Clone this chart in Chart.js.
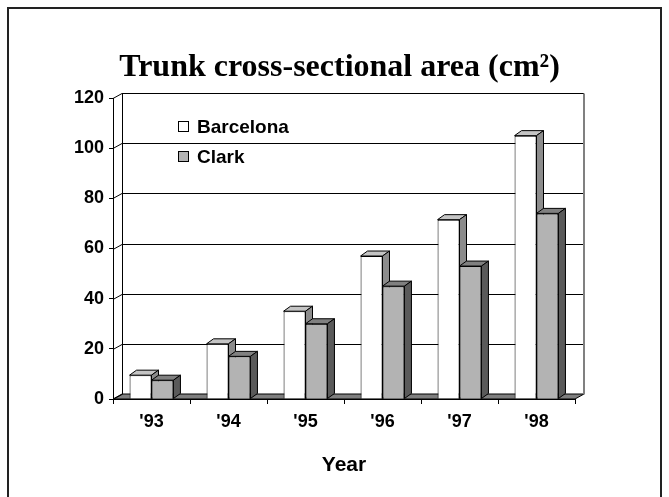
<!DOCTYPE html>
<html><head><meta charset="utf-8">
<script src="https://cdn.jsdelivr.net/npm/chart.js@4/dist/chart.umd.min.js"></script>
<style>
html,body{margin:0;padding:0;background:#fff;}
#wrap{position:relative;width:669px;height:497px;}
</style></head><body>
<div id="wrap"><canvas id="c" width="669" height="497"></canvas></div>
<script>
const categories = ["'93", "'94", "'95", "'96", "'97", "'98"];
const barcelona = [9.5, 22, 35, 57, 71.5, 105];
const clark = [7.5, 17, 30, 45, 53, 74];
const yTicks = [0, 20, 40, 60, 80, 100, 120];
const seriesNames = ['Barcelona', 'Clark'];
const titleText = 'Trunk cross-sectional area (cm\u00B2)';
const xTitle = 'Year';

const SANS = "'Liberation Sans', Arial, sans-serif";
const SERIF = "'Liberation Serif', 'Times New Roman', serif";
const FRONT = ['#ffffff', '#b3b3b3'];
const TOP = ['#c4c4c4', '#808080'];
const SIDE = ['#8c8c8c', '#5a5a5a'];
const BAR = {dx: 7, dy: -5};
const WALL = {dx: 9, dy: -5};

function poly(ctx, pts, fill, stroke) {
  ctx.beginPath();
  ctx.moveTo(pts[0][0], pts[0][1]);
  for (let i = 1; i < pts.length; i++) ctx.lineTo(pts[i][0], pts[i][1]);
  ctx.closePath();
  if (fill) { ctx.fillStyle = fill; ctx.fill(); }
  if (stroke) { ctx.strokeStyle = stroke; ctx.lineWidth = 1; ctx.stroke(); }
}

const threeD = {
  id: 'threeD',
  beforeDraw(chart) {
    const ctx = chart.ctx;
    ctx.save();
    ctx.strokeStyle = '#222';
    ctx.lineWidth = 2;
    ctx.strokeRect(8, 8, 653, 520);
    ctx.restore();
  },
  beforeDatasetsDraw(chart) {
    const {ctx, chartArea: a, scales: {y}} = chart;
    ctx.save();
    poly(ctx, [[a.left, a.bottom], [a.right, a.bottom], [a.right + WALL.dx, a.bottom + WALL.dy], [a.left + WALL.dx, a.bottom + WALL.dy]], '#7f7f7f', '#000');
    ctx.strokeStyle = '#000';
    ctx.lineWidth = 1;
    yTicks.forEach(v => {
      const py = Math.round(y.getPixelForValue(v)) + 0.5;
      ctx.beginPath();
      ctx.moveTo(a.left, py);
      ctx.lineTo(a.left + WALL.dx, py + WALL.dy);
      if (v !== 0) ctx.lineTo(a.right + WALL.dx, py + WALL.dy);
      ctx.stroke();
    });
    const top = Math.round(y.getPixelForValue(yTicks[yTicks.length - 1])) + WALL.dy + 0.5;
    const bot = Math.round(y.getPixelForValue(0)) + WALL.dy + 0.5;
    ctx.beginPath();
    ctx.moveTo(a.left + WALL.dx + 0.5, top);
    ctx.lineTo(a.left + WALL.dx + 0.5, bot);
    ctx.stroke();
    ctx.strokeStyle = '#808080';
    ctx.lineWidth = 2;
    ctx.beginPath();
    ctx.moveTo(a.right + WALL.dx, top);
    ctx.lineTo(a.right + WALL.dx, bot);
    ctx.stroke();
    ctx.restore();
  },
  afterDatasetsDraw(chart) {
    const ctx = chart.ctx;
    ctx.save();
    const n = chart.data.labels.length;
    for (let i = 0; i < n; i++) {
      chart.data.datasets.forEach((ds, d) => {
        const el = chart.getDatasetMeta(d).data[i];
        if (d > 0) el.draw(ctx);
        const p = el.getProps(['x', 'y', 'base', 'width'], true);
        const l = p.x - p.width / 2, r = p.x + p.width / 2, t = p.y, b = p.base;
        poly(ctx, [[l, t], [l + BAR.dx, t + BAR.dy], [r + BAR.dx, t + BAR.dy], [r, t]], TOP[d], '#000');
        poly(ctx, [[r, t], [r + BAR.dx, t + BAR.dy], [r + BAR.dx, b + BAR.dy], [r, b]], SIDE[d], '#000');
      });
    }
    ctx.restore();
  },
  afterDraw(chart) {
    const ctx = chart.ctx;
    ctx.save();
    ctx.font = 'bold 19px ' + SANS;
    ctx.textBaseline = 'middle';
    seriesNames.forEach((name, d) => {
      const by = 121 + d * 30;
      ctx.fillStyle = FRONT[d];
      ctx.fillRect(178.5, by + 0.5, 10, 10);
      ctx.strokeStyle = '#000';
      ctx.lineWidth = 1;
      ctx.strokeRect(178.5, by + 0.5, 10, 10);
      ctx.fillStyle = '#000';
      ctx.fillText(name, 197, by + 6.5);
    });
    ctx.restore();
  }
};

new Chart(document.getElementById('c'), {
  type: 'bar',
  data: {
    labels: categories,
    datasets: [
      {label: seriesNames[0], data: barcelona, backgroundColor: FRONT[0], borderColor: '#000', borderWidth: 1, barPercentage: 1, categoryPercentage: 0.57},
      {label: seriesNames[1], data: clark, backgroundColor: FRONT[1], borderColor: '#000', borderWidth: 1, barPercentage: 1, categoryPercentage: 0.57}
    ]
  },
  options: {
    responsive: false,
    animation: false,
    devicePixelRatio: 1,
    layout: {padding: {left: 10, right: 0, top: 0, bottom: 10}},
    plugins: {
      legend: {display: false},
      tooltip: {enabled: false},
      title: {
        display: true,
        text: titleText,
        color: '#000',
        font: {family: SERIF, size: 32, weight: 'bold', lineHeight: 1.2},
        padding: {top: 49, bottom: 10.6}
      }
    },
    scales: {
      x: {
        afterFit: s => { s.height = 88; },
        grid: {offset: true, drawOnChartArea: false, drawTicks: true, tickLength: 5, color: '#000'},
        border: {display: true, color: '#000', width: 1},
        ticks: {color: '#000', font: {family: SANS, size: 18, weight: 'bold'}, padding: 7},
        title: {display: true, text: xTitle, color: '#000', font: {family: SANS, size: 21, weight: 'bold'}, padding: {top: 0, bottom: 9.4}}
      },
      y: {
        min: 0, max: 120,
        afterFit: s => { s.width = 103; },
        afterBuildTicks: s => { s.ticks = yTicks.map(v => ({value: v})); },
        grid: {drawOnChartArea: false, drawTicks: true, tickLength: 4, color: '#000'},
        border: {display: true, color: '#000', width: 1},
        ticks: {color: '#000', font: {family: SANS, size: 18, weight: 'bold'}, padding: 5}
      },
      yRight: {
        type: 'linear',
        position: 'right',
        display: true,
        afterFit: s => { s.width = 94; },
        grid: {display: false, drawTicks: false},
        border: {display: false},
        ticks: {display: false}
      }
    }
  },
  plugins: [threeD]
});
</script>
</body></html>
